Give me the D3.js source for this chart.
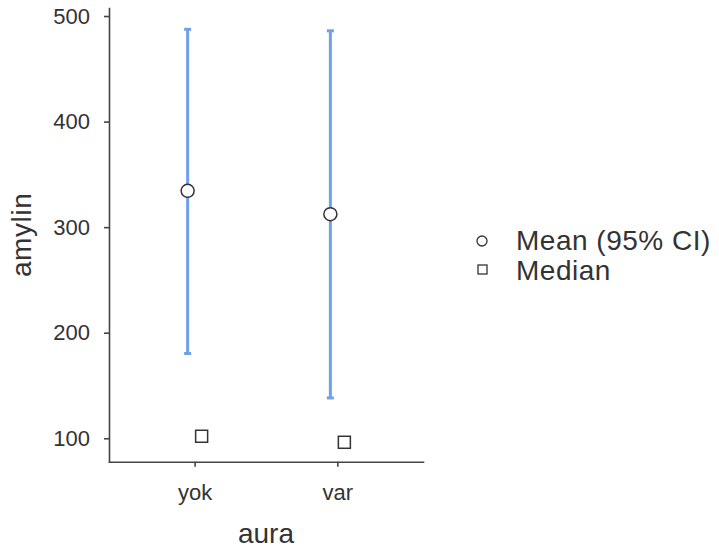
<!DOCTYPE html>
<html>
<head>
<meta charset="utf-8">
<script src="https://cdn.jsdelivr.net/npm/d3@7"></script>
<style>
  body { margin: 0; background: #fff; }
  svg text { font-family: "Liberation Sans", Arial, sans-serif; fill: #333; }
</style>
</head>
<body>
<div id="chart"></div>
<script>
// Chart values
const groups = ["yok", "var"];
const means = [334.4, 312.3];
const ciLower = [180.3, 138.2];
const ciUpper = [487.4, 486.0];
const medians = [101.9, 96.2];
const yTicks = [100, 200, 300, 400, 500];
const legendLabels = ["Mean (95% CI)", "Median"];

const width = 719;
const height = 555;
const plot = {left: 109, right: 423, top: 8, bottom: 461.7};
const dodge = 7;
const ciColor = "#6fa0ea";
const axisColor = "#444";

const svg = d3.select("#chart")
  .append("svg")
  .attr("width", width)
  .attr("height", height);

// scales
const yScale = d3.scaleLinear()
  .domain([77.8, 507.6])
  .range([plot.bottom, plot.top]);

const xScale = d3.scalePoint()
  .domain(groups)
  .range([plot.left, plot.right])
  .padding(0.6);

// y axis
const yAxis = svg.append("g")
  .attr("transform", `translate(${plot.left},0)`)
  .call(d3.axisLeft(yScale).tickValues(yTicks).tickSize(5).tickPadding(14).tickSizeOuter(0));
yAxis.selectAll("text").attr("font-size", "22px");

// x axis
const xAxis = svg.append("g")
  .attr("transform", `translate(0,${plot.bottom})`)
  .call(d3.axisBottom(xScale).tickSize(5).tickPadding(18).tickSizeOuter(0));
xAxis.selectAll("text").attr("font-size", "22px");

svg.selectAll(".domain, .tick line")
  .attr("stroke", axisColor)
  .attr("stroke-width", 1.6);
svg.selectAll(".domain").attr("stroke-linecap", "square");
svg.selectAll(".tick text").attr("fill", "#333").attr("font-family", null);

// axis titles
svg.append("text")
  .attr("transform", `translate(31,${(plot.top + plot.bottom) / 2}) rotate(-90)`)
  .attr("text-anchor", "middle")
  .attr("font-size", "28px")
  .attr("letter-spacing", "0.6px")
  .text("amylin");

svg.append("text")
  .attr("x", (plot.left + plot.right) / 2)
  .attr("y", 543)
  .attr("text-anchor", "middle")
  .attr("font-size", "28px")
  .text("aura");

// error bars (95% CI)
const bars = svg.append("g");
groups.forEach((g, i) => {
  const cx = xScale(g) - dodge;
  bars.append("line")
    .attr("x1", cx).attr("x2", cx)
    .attr("y1", yScale(ciLower[i])).attr("y2", yScale(ciUpper[i]))
    .attr("stroke", ciColor).attr("stroke-width", 3);
  [ciLower[i], ciUpper[i]].forEach(v => {
    bars.append("line")
      .attr("x1", cx - 3.5).attr("x2", cx + 3.5)
      .attr("y1", yScale(v)).attr("y2", yScale(v))
      .attr("stroke", ciColor).attr("stroke-width", 3);
  });
});

// means
svg.selectAll(".mean")
  .data(groups)
  .enter()
  .append("circle")
    .attr("class", "mean")
    .attr("cx", d => xScale(d) - dodge)
    .attr("cy", (d, i) => yScale(means[i]))
    .attr("r", 6.5)
    .attr("fill", "#fff")
    .attr("stroke", "#333")
    .attr("stroke-width", 1.5);

// medians
svg.selectAll(".median")
  .data(groups)
  .enter()
  .append("rect")
    .attr("class", "median")
    .attr("x", d => xScale(d) + dodge - 6)
    .attr("y", (d, i) => yScale(medians[i]) - 6)
    .attr("width", 12)
    .attr("height", 12)
    .attr("fill", "#fff")
    .attr("stroke", "#333")
    .attr("stroke-width", 1.5);

// legend
const legend = svg.append("g");
legend.append("circle")
  .attr("cx", 482).attr("cy", 241).attr("r", 5)
  .attr("fill", "#fff").attr("stroke", "#333").attr("stroke-width", 1.3);
legend.append("rect")
  .attr("x", 478).attr("y", 265).attr("width", 9).attr("height", 9)
  .attr("fill", "#fff").attr("stroke", "#333").attr("stroke-width", 1.3);
legend.selectAll(".lab")
  .data(legendLabels)
  .enter()
  .append("text")
    .attr("class", "lab")
    .attr("x", 516)
    .attr("y", (d, i) => 250 + i * 30)
    .attr("font-size", "28px")
    .attr("letter-spacing", "0.5px")
    .text(d => d);
</script>
</body>
</html>
